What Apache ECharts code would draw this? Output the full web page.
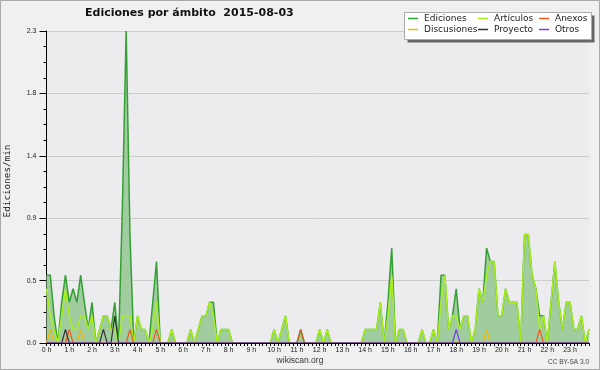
<!DOCTYPE html>
<html>
<head>
<meta charset="utf-8">
<script src="https://cdn.jsdelivr.net/npm/echarts@6/dist/echarts.min.js"></script>
<style>
html,body{margin:0;padding:0;background:#f0f0f0;}
#c{width:600px;height:370px;}
</style>
</head>
<body>
<div id="c"></div>
<script>
// Tick labels for the x axis (one per hour)
const hourLabels = ['0 h','1 h','2 h','3 h','4 h','5 h','6 h','7 h','8 h','9 h','10 h','11 h',
  '12 h','13 h','14 h','15 h','16 h','17 h','18 h','19 h','20 h','21 h','22 h','23 h'];

// Edits per minute, one value per 10-minute slot (12 values per row = 2 hours)
const ediciones = [
  0.5,0.5,0.2,0,0.3,0.5,0.3,0.4,0.3,0.5,0.3,0.1,
  0.3,0,0.1,0.2,0.2,0.1,0.3,0,1.0,2.3,0.8,0,
  0.2,0.1,0.1,0,0.3,0.6,0,0,0,0.1,0,0,
  0,0,0.1,0,0.1,0.2,0.2,0.3,0.3,0,0.1,0.1,
  0.1,0,0,0,0,0,0,0,0,0,0,0,
  0.1,0,0.1,0.2,0,0,0,0.1,0,0,0,0,
  0.1,0,0.1,0,0,0,0,0,0,0,0,0,
  0.1,0.1,0.1,0.1,0.3,0,0.3,0.7,0,0.1,0.1,0,
  0,0,0,0.1,0,0,0.1,0,0.5,0.5,0.1,0.2,
  0.4,0.1,0.2,0.2,0,0.1,0.4,0.3,0.7,0.6,0.6,0.2,
  0.2,0.4,0.3,0.3,0.3,0,0.8,0.8,0.5,0.4,0.2,0.2,
  0,0.3,0.6,0.3,0.1,0.3,0.3,0.1,0.1,0.2,0,0.1
];
const articulos = [
  0.4,0.2,0.1,0,0.2,0.4,0.2,0.1,0.1,0.2,0.2,0.1,
  0.2,0,0.1,0.2,0.2,0.1,0.1,0,0.2,0.2,0.2,0,
  0.2,0.1,0.1,0,0.1,0.3,0,0,0,0.1,0,0,
  0,0,0.1,0,0.1,0.2,0.2,0.3,0.2,0,0.1,0.1,
  0.1,0,0,0,0,0,0,0,0,0,0,0,
  0.1,0,0.1,0.2,0,0,0,0,0,0,0,0,
  0.1,0,0.1,0,0,0,0,0,0,0,0,0,
  0.1,0.1,0.1,0.1,0.3,0,0.2,0.5,0,0.1,0.1,0,
  0,0,0,0.1,0,0,0.1,0,0.3,0.5,0.1,0.2,
  0.2,0.1,0.2,0.2,0,0.1,0.4,0.3,0.5,0.6,0.6,0.2,
  0.2,0.4,0.3,0.3,0.3,0,0.8,0.8,0.5,0.4,0.1,0.2,
  0,0.3,0.6,0.3,0.1,0.3,0.3,0.1,0.1,0.2,0,0.1
];
const anexos = [
  0,0,0,0,0,0,0.1,0,0,0,0,0,
  0,0,0,0,0,0,0,0,0,0,0.1,0,
  0,0,0,0,0,0.1,0,0,0,0,0,0,
  0,0,0,0,0,0,0,0,0,0,0,0,
  0,0,0,0,0,0,0,0,0,0,0,0,
  0,0,0,0,0,0,0,0.1,0,0,0,0,
  0,0,0,0,0,0,0,0,0,0,0,0,
  0,0,0,0,0,0,0,0,0,0,0,0,
  0,0,0,0,0,0,0,0,0,0,0,0,
  0,0,0,0,0,0,0,0,0,0,0,0,
  0,0,0,0,0,0,0,0,0,0,0.1,0,
  0,0,0,0,0,0,0,0,0,0,0,0
];
const discusiones = [
  0,0.1,0,0,0,0,0,0,0,0.1,0,0,
  0,0,0,0,0,0,0,0,0,0,0,0,
  0,0,0,0,0,0,0,0,0,0,0,0,
  0,0,0,0,0,0,0,0,0,0,0,0,
  0,0,0,0,0,0,0,0,0,0,0,0,
  0,0,0,0,0,0,0,0,0,0,0,0,
  0,0,0,0,0,0,0,0,0,0,0,0,
  0,0,0,0,0,0,0,0,0,0,0,0,
  0,0,0,0,0,0,0,0,0,0,0,0,
  0,0,0,0,0,0,0,0,0.1,0,0,0,
  0,0,0,0,0,0,0,0,0,0,0,0,
  0,0,0,0,0,0,0,0,0,0,0,0
];
const proyecto = [
  0,0,0,0,0,0.1,0,0,0,0,0,0,
  0,0,0,0.1,0,0,0.2,0,0,0,0,0,
  0,0,0,0,0,0,0,0,0,0,0,0,
  0,0,0,0,0,0,0,0,0,0,0,0,
  0,0,0,0,0,0,0,0,0,0,0,0,
  0,0,0,0,0,0,0,0,0,0,0,0,
  0,0,0,0,0,0,0,0,0,0,0,0,
  0,0,0,0,0,0,0,0,0,0,0,0,
  0,0,0,0,0,0,0,0,0,0,0,0,
  0,0,0,0,0,0,0,0,0,0,0,0,
  0,0,0,0,0,0,0,0,0,0,0,0,
  0,0,0,0,0,0,0,0,0,0,0,0
];
const otros = [
  0,0,0,0,0,0,0,0,0,0,0,0,
  0,0,0,0,0,0,0,0,0,0,0,0,
  0,0,0,0,0,0,0,0,0,0,0,0,
  0,0,0,0,0,0,0,0,0,0,0,0,
  0,0,0,0,0,0,0,0,0,0,0,0,
  0,0,0,0,0,0,0,0,0,0,0,0,
  0,0,0,0,0,0,0,0,0,0,0,0,
  0,0,0,0,0,0,0,0,0,0,0,0,
  0,0,0,0,0,0,0,0,0,0,0,0,
  0.1,0,0,0,0,0,0,0,0,0,0,0,
  0,0,0,0,0,0,0,0,0,0,0,0,
  0,0,0,0,0,0,0,0,0,0,0,0
];

// categories: one per 10-minute slot
const categories = ediciones.map((_, i) => String(i));

const chart = echarts.init(document.getElementById('c'), null, {renderer: 'canvas'});

function lineSeries(name, data, color, width, extra) {
  return Object.assign({
    name: name, type: 'line', data: data, symbol: 'none', smooth: false,
    color: color,
    itemStyle: {color: color},
    lineStyle: {color: color, width: width},
    animation: false
  }, extra || {});
}

const legendBase = {
  orient: 'vertical', top: 13, padding: 0, itemGap: 0,
  itemWidth: 10, itemHeight: 1.5, icon: 'rect', selectedMode: false, z: 20,
  textStyle: {fontFamily: 'DejaVu Sans', fontSize: 9, color: '#222', lineHeight: 11, padding: [0, 0, 0, 1]}
};

chart.setOption({
  backgroundColor: '#f0f0f0',
  animation: false,
  textStyle: {fontFamily: 'Liberation Sans'},
  title: {
    text: 'Ediciones por ámbito  2015-08-03',
    left: 85, top: 8, padding: 0,
    textStyle: {fontFamily: 'DejaVu Sans', fontWeight: 'bold', fontSize: 11, color: '#111'}
  },
  legend: [
    Object.assign({}, legendBase, {left: 408, data: ['Ediciones', 'Discusiones']}),
    Object.assign({}, legendBase, {left: 478, data: ['Artículos', 'Proyecto']}),
    Object.assign({}, legendBase, {left: 539, data: ['Anexos', 'Otros']})
  ],
  grid: {
    left: 46.5, right: 11, top: 31, bottom: 27,
    show: true, backgroundColor: '#ececef', borderWidth: 0
  },
  xAxis: {
    type: 'category', data: categories, boundaryGap: false, z: 5,
    axisLine: {lineStyle: {color: '#000', width: 1}},
    axisTick: {show: true, interval: 0, length: 3, lineStyle: {color: '#000'}},
    axisLabel: {
      interval: 5, margin: 4, fontSize: 7, color: '#222',
      formatter: function (v, idx) { return idx % 6 === 0 ? hourLabels[idx / 6] : ''; }
    },
    splitLine: {show: false}
  },
  yAxis: {
    type: 'value', min: 0, max: 2.3, interval: 0.46,
    axisLine: {show: true, lineStyle: {color: '#000', width: 1}},
    axisTick: {show: true, length: 7, lineStyle: {color: '#000'}},
    minorTick: {show: true, splitNumber: 4, length: 3, lineStyle: {color: '#000'}},
    splitLine: {show: true, lineStyle: {color: '#cccccc', width: 1}},
    axisLabel: {
      fontSize: 7, margin: 10, color: '#222',
      formatter: function (v) { return v.toFixed(1); }
    }
  },
  graphic: [
    {type: 'rect', z: 10, shape: {x: 407.5, y: 15.5, width: 187, height: 27}, style: {fill: '#666', stroke: null}},
    {type: 'rect', z: 11, shape: {x: 404.5, y: 12.5, width: 187, height: 27}, style: {fill: '#ffffff', stroke: '#aaaaaa', lineWidth: 1}},
    {type: 'text', z: 11, x: 8, y: 181, rotation: Math.PI / 2,
      style: {text: 'Ediciones/min', fontFamily: 'DejaVu Sans Mono', fontSize: 9.3, fill: '#222', textAlign: 'center', textVerticalAlign: 'middle'}},
    {type: 'text', z: 11, x: 300, y: 361,
      style: {text: 'wikiscan.org', fontFamily: 'Liberation Sans', fontSize: 8.5, fill: '#333', textAlign: 'center', textVerticalAlign: 'middle'}},
    {type: 'text', z: 11, x: 589, y: 362,
      style: {text: 'CC BY-SA 3.0', fontFamily: 'Liberation Sans', fontSize: 6.5, fill: '#444', textAlign: 'right', textVerticalAlign: 'middle'}},
    {type: 'rect', z: 30, shape: {x: 0.5, y: 0.5, width: 599, height: 369}, style: {fill: null, stroke: '#a8a8a8', lineWidth: 1}}
  ],
  series: [
    lineSeries('Ediciones', ediciones, '#34a034', 1.5, {areaStyle: {color: '#a0cc9f', opacity: 1}}),
    lineSeries('Artículos', articulos, '#aaee22', 1.5),
    lineSeries('Anexos', anexos, '#ee5a1a', 1.2),
    lineSeries('Discusiones', discusiones, '#f5b800', 1.2),
    lineSeries('Proyecto', proyecto, '#333333', 1.2),
    lineSeries('Otros', otros, '#7a3cf0', 1.2)
  ]
});
</script>
</body>
</html>
